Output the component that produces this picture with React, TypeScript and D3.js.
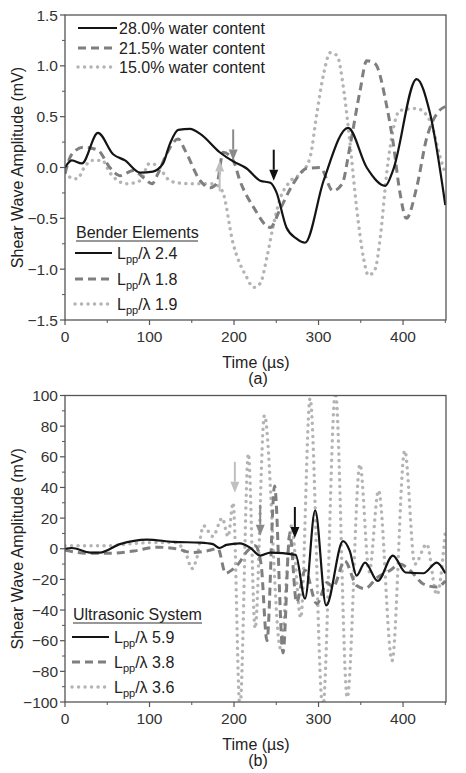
import React from 'react';
import * as d3 from 'd3';

// ---------- tick labels ----------
const timeTicks = [0, 100, 200, 300, 400];
const timeTickLabels = ['0', '100', '200', '300', '400'];
const timeMinorTicks = [50, 150, 250, 350, 450];
const benderTicks = [-1.5, -1.0, -0.5, 0, 0.5, 1.0, 1.5];
const benderTickLabels = ['−1.5', '−1.0', '−0.5', '0.0', '0.5', '1.0', '1.5'];
const benderMinorTicks = [-1.25, -0.75, -0.25, 0.25, 0.75, 1.25];
const ultraTicks = [-100, -80, -60, -40, -20, 0, 20, 40, 60, 80, 100];
const ultraTickLabels = ['−100', '−80', '−60', '−40', '−20', '0', '20', '40', '60', '80', '100'];
const ultraMinorTicks = [-90, -70, -50, -30, -10, 10, 30, 50, 70, 90];

// ---------- (a) bender elements ----------
const benderTime28 = [0, 8, 20, 39, 57, 71, 89, 104, 116, 124, 134, 148, 160, 183, 199, 215, 231, 243, 250, 262, 274, 284, 306, 335, 357, 379, 388, 416, 432, 450];
const benderAmp28 = [0.0, 0.07, 0.04, 0.34, 0.13, 0.07, -0.05, -0.04, 0.04, 0.23, 0.37, 0.38, 0.33, 0.15, 0.06, -0.01, -0.13, -0.15, -0.24, -0.59, -0.70, -0.74, -0.13, 0.39, 0.0, -0.18, -0.03, 0.87, 0.53, -0.37];

const benderTime215 = [0, 8, 22, 39, 53, 65, 81, 93, 103, 110, 120, 134, 142, 160, 172, 180, 187, 199, 207, 223, 243, 254, 270, 286, 302, 317, 328, 337, 349, 357, 367, 381, 388, 396, 404, 416, 428, 440, 450];
const benderAmp215 = [-0.06, 0.13, 0.2, 0.17, 0.0, -0.08, -0.03, -0.1, -0.16, -0.06, 0.13, 0.28, 0.17, -0.13, -0.2, -0.15, 0.15, 0.07, -0.13, -0.39, -0.59, -0.42, -0.16, -0.01, 0.0, -0.23, -0.16, 0.2, 0.75, 1.05, 1.02, 0.59, 0.26, -0.23, -0.5, -0.2, 0.29, 0.53, 0.6];

const benderTime15 = [0, 10, 15, 22, 32, 44, 53, 73, 89, 100, 112, 120, 132, 152, 175, 186, 199, 215, 223, 231, 239, 246, 254, 266, 280, 290, 298, 306, 314, 322, 330, 337, 345, 353, 359, 367, 373, 381, 388, 396, 416, 432, 444, 450];
const benderAmp15 = [-0.05, -0.11, -0.11, -0.01, 0.07, 0.07, -0.05, -0.16, -0.13, 0.04, 0.0, -0.1, -0.15, -0.16, -0.16, -0.23, -0.75, -1.08, -1.18, -1.14, -0.88, -0.59, -0.32, -0.14, -0.05, 0.1, 0.53, 0.92, 1.13, 1.1, 0.75, 0.26, -0.39, -0.88, -1.06, -1.0, -0.69, -0.03, 0.36, 0.56, 0.58, 0.46, 0.1, -0.06];

// arrows (time, tip amplitude, direction)
const benderArrowTimes = [183, 199, 247];
const benderArrowTips = [0.07, 0.07, -0.13];
const benderArrowDirs = ['up', 'down', 'down'];

// ---------- (b) ultrasonic system ----------
const ultraTime59 = [0, 8, 30, 41, 65, 97, 128, 160, 175, 183, 191, 207, 219, 231, 243, 273, 284, 296, 309, 329, 337, 345, 355, 370, 388, 403, 424, 440, 450];
const ultraAmp59 = [0, 0.5, -2.5, -2.5, 3, 6, 4.5, 4, 3, 0.5, 2.5, 3.5, 0.7, -4.5, -2.5, -4, -32.5, 25, -37, 5, -1.5, -17.5, -9, -21, -4.5, -15.5, -16, -9, -16];

const ultraTime38 = [0, 30, 53, 81, 109, 132, 151, 167, 181, 190, 197, 205, 215, 225, 232, 239, 248, 258, 266, 274, 284, 298, 310, 317, 331, 345, 355, 369, 385, 396, 408, 424, 440, 450];
const ultraAmp38 = [-1, -3, -3, -1.5, 1, 0, -2.5, -1.5, 0, -16, -14, -10, -2, 2, -10, -60, 41, -68, 10, -35, -14, -36, -22, -25, -8, -24, -26, -19, -14, -10, -14, -23, -25, -21];

const ultraTime36 = [0, 53, 73, 100, 130, 144, 150, 156, 164, 175, 186, 193, 199, 207, 217, 225, 236, 255, 268, 279, 290, 305, 320, 334, 349, 360, 371, 387, 402, 414, 428, 440, 450];
const ultraAmp36 = [2, 2, 3, 4, 4, -4.5, -13, -6, 15, 8, 20, 8, 30, -104, 62, -52, 87, -65, 15, -45, 98, -104, 102, -97, 55, -15, 38, -73, 64, -10, 3, -30, 12];

const ultraArrowTimes = [201, 231, 272];
const ultraArrowTips = [36.5, 8.5, 7];
const ultraArrowDirs = ['down', 'down', 'down'];

// ---------- legend texts ----------
const waterLabels = ['28.0% water content', '21.5% water content', '15.0% water content'];
const benderRatios = ['2.4', '1.8', '1.9'];
const ultraRatios = ['5.9', '3.8', '3.6'];

const FONT = '"Liberation Sans", Arial, Helvetica, sans-serif';

const styles = [
  { stroke: '#141414', width: 2.2, dash: undefined as string | undefined, cap: 'butt' },
  { stroke: '#7f7f7f', width: 3, dash: '8 5', cap: 'butt' },
  { stroke: '#b4b4b4', width: 3.4, dash: '0.1 6.4', cap: 'round' },
];
const arrowColors = ['#c0c0c0', '#8a8a8a', '#111111'];

type Series = { t: number[]; v: number[] };

function Arrow({ x, tipY, dir, color }: { x: number; tipY: number; dir: string; color: string }) {
  const len = 31;
  const head = 11;
  const s = dir === 'down' ? -1 : 1; // tail is above tip when pointing down
  const tailY = tipY + s * len;
  const baseY = tipY + s * head;
  return (
    <g>
      <line x1={x} x2={x} y1={tailY} y2={baseY} stroke={color} strokeWidth={2} />
      <path d={`M${x - 4.5},${baseY} L${x + 4.5},${baseY} L${x},${tipY} Z`} fill={color} />
    </g>
  );
}

function Panel({
  id, top, bottom, yDomain, yTicks, yTickLabels, yMinor, series, arrowTimes, arrowTips, arrowDirs, sub,
}: {
  id: string; top: number; bottom: number; yDomain: [number, number]; yTicks: number[]; yTickLabels: string[]; yMinor: number[];
  series: Series[]; arrowTimes: number[]; arrowTips: number[]; arrowDirs: string[]; sub: string;
}) {
  const left = 65;
  const right = 446;
  const x = d3.scaleLinear().domain([0, 450]).range([left, 445.3]);
  const y = d3.scaleLinear().domain(yDomain).range([bottom, top]);
  const line = d3
    .line<[number, number]>()
    .x((d) => x(d[0]))
    .y((d) => y(d[1]))
    .curve(d3.curveMonotoneX);
  const axisColor = '#555';
  const mid = (top + bottom) / 2;
  return (
    <g>
      <defs>
        <clipPath id={id}>
          <rect x={left} y={top} width={right - left} height={bottom - top} />
        </clipPath>
      </defs>
      <g clipPath={`url(#${id})`}>
        {series
          .map((s, i) => ({ s, i }))
          .reverse()
          .map(({ s, i }) => (
            <path
              key={i}
              d={line(s.t.map((t, k) => [t, s.v[k]] as [number, number])) || ''}
              fill="none"
              stroke={styles[i].stroke}
              strokeWidth={styles[i].width}
              strokeDasharray={styles[i].dash}
              strokeLinecap={styles[i].cap as any}
              strokeLinejoin="round"
            />
          ))}
      </g>
      {arrowTimes.map((t, i) => (
        <Arrow key={i} x={x(t)} tipY={y(arrowTips[i])} dir={arrowDirs[i]} color={arrowColors[i]} />
      ))}
      <rect x={left} y={top} width={right - left} height={bottom - top} fill="none" stroke={axisColor} strokeWidth={1.3} />
      {timeTicks.map((t, i) => (
        <g key={'xt' + i}>
          <line x1={x(t)} x2={x(t)} y1={bottom} y2={bottom + 5} stroke={axisColor} strokeWidth={1.2} />
          <text x={x(t)} y={bottom + 22} textAnchor="middle" fontSize={15.5} fontFamily={FONT} fill="#333">
            {timeTickLabels[i]}
          </text>
        </g>
      ))}
      {timeMinorTicks.map((t, i) => (
        <line key={'xm' + i} x1={x(t)} x2={x(t)} y1={bottom} y2={bottom + 3} stroke={axisColor} strokeWidth={1} />
      ))}
      {yTicks.map((v, i) => (
        <g key={'yt' + i}>
          <line x1={left - 5} x2={left} y1={y(v)} y2={y(v)} stroke={axisColor} strokeWidth={1.2} />
          <text x={58} y={y(v) + 5.5} textAnchor="end" fontSize={15.5} fontFamily={FONT} fill="#333">
            {yTickLabels[i]}
          </text>
        </g>
      ))}
      {yMinor.map((v, i) => (
        <line key={'ym' + i} x1={left - 3} x2={left} y1={y(v)} y2={y(v)} stroke={axisColor} strokeWidth={1} />
      ))}
      <text
        transform={`translate(23,${mid}) rotate(-90)`}
        textAnchor="middle"
        fontSize={16}
        fontFamily={FONT}
        fill="#222"
      >
        Shear Wave Amplitude (mV)
      </text>
      <text x={256} y={bottom + 48} textAnchor="middle" fontSize={16} fontFamily={FONT} fill="#222">
        Time (µs)
      </text>
      <text x={258} y={bottom + 64} textAnchor="middle" fontSize={16} fontFamily={FONT} fill="#222">
        {sub}
      </text>
    </g>
  );
}

function RatioLegend({ title, ratios, x0, titleY, underlineW, rowYs }: { title: string; ratios: string[]; x0: number; titleY: number; underlineW: number; rowYs: number[] }) {
  return (
    <g fontFamily={FONT} fill="#222">
      <text x={x0 + 1} y={titleY} fontSize={16}>
        {title}
      </text>
      <line x1={x0 + 1} x2={x0 + 1 + underlineW} y1={titleY + 3} y2={titleY + 3} stroke="#333" strokeWidth={1.2} />
      {ratios.map((r, i) => (
        <g key={i}>
          <line
            x1={x0}
            x2={x0 + 37}
            y1={rowYs[i]}
            y2={rowYs[i]}
            stroke={styles[i].stroke}
            strokeWidth={styles[i].width}
            strokeDasharray={styles[i].dash}
            strokeLinecap={styles[i].cap as any}
          />
          <text x={x0 + 42} y={rowYs[i] + 6} fontSize={16}>
            <tspan>L</tspan>
            <tspan dy={4} fontSize={11}>pp</tspan>
            <tspan dy={-4}>/λ {r}</tspan>
          </text>
        </g>
      ))}
    </g>
  );
}

export default function App() {
  const benderSeries: Series[] = [
    { t: benderTime28, v: benderAmp28 },
    { t: benderTime215, v: benderAmp215 },
    { t: benderTime15, v: benderAmp15 },
  ];
  const ultraSeries: Series[] = [
    { t: ultraTime59, v: ultraAmp59 },
    { t: ultraTime38, v: ultraAmp38 },
    { t: ultraTime36, v: ultraAmp36 },
  ];
  const waterRowYs = [28, 48, 67];
  return (
    <svg
      width={466}
      height={773}
      style={{ position: 'absolute', left: 0, top: 0, background: '#fff' }}
    >
      <rect width={466} height={773} fill="#fff" />
      <Panel
        id="clipA"
        top={15}
        bottom={320}
        yDomain={[-1.5, 1.5]}
        yTicks={benderTicks}
        yTickLabels={benderTickLabels}
        yMinor={benderMinorTicks}
        series={benderSeries}
        arrowTimes={benderArrowTimes}
        arrowTips={benderArrowTips}
        arrowDirs={benderArrowDirs}
        sub="(a)"
      />
      <g fontFamily={FONT} fill="#222">
        {waterLabels.map((lab, i) => (
          <g key={i}>
            <line
              x1={78}
              x2={117}
              y1={waterRowYs[i]}
              y2={waterRowYs[i]}
              stroke={styles[i].stroke}
              strokeWidth={styles[i].width}
              strokeDasharray={styles[i].dash}
              strokeLinecap={styles[i].cap as any}
            />
            <text x={119} y={waterRowYs[i] + 6} fontSize={16}>
              {lab}
            </text>
          </g>
        ))}
      </g>
      <RatioLegend title="Bender Elements" ratios={benderRatios} x0={75} titleY={238} underlineW={122} rowYs={[253, 279, 304]} />
      <Panel
        id="clipB"
        top={395.5}
        bottom={702}
        yDomain={[-100, 100]}
        yTicks={ultraTicks}
        yTickLabels={ultraTickLabels}
        yMinor={ultraMinorTicks}
        series={ultraSeries}
        arrowTimes={ultraArrowTimes}
        arrowTips={ultraArrowTips}
        arrowDirs={ultraArrowDirs}
        sub="(b)"
      />
      <RatioLegend title="Ultrasonic System" ratios={ultraRatios} x0={72} titleY={620} underlineW={129} rowYs={[637, 662, 687]} />
    </svg>
  );
}
